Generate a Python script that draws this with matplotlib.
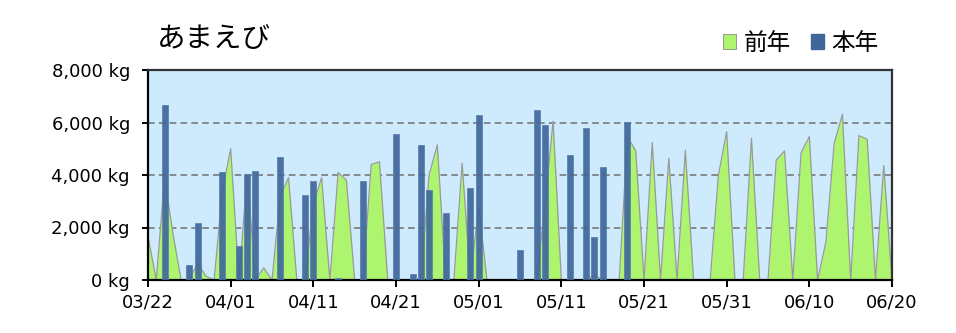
import matplotlib
matplotlib.use("Agg")
import matplotlib.pyplot as plt
from matplotlib.patches import Patch
import numpy as np
from matplotlib.ticker import FuncFormatter, FixedLocator

# day index 0 = 03/22 ... 90 = 06/20
tick_days = [0, 10, 20, 30, 40, 50, 60, 70, 80, 90]
tick_labels = ["03/22", "04/01", "04/11", "04/21", "05/01", "05/11", "05/21", "05/31", "06/10", "06/20"]

# previous year (daily, day 0..90)
prev_year = [1650, 0, 3900, 1800, 0, 0, 650, 150, 0, 3400,
             5000, 0, 4000, 0, 460, 0, 3200, 3900, 0, 0,
             2900, 3900, 0, 4100, 3800, 0, 0, 4400, 4500, 0,
             0, 0, 0, 0, 4000, 5150, 0, 0, 4450, 0,
             2850, 0, 0, 0, 0, 0, 0, 0, 2800, 6050,
             0, 0, 0, 0, 200, 0, 0, 0, 5470, 4920,
             0, 5240, 0, 4640, 0, 4950, 0, 0, 0, 3990,
             5650, 0, 0, 5400, 0, 0, 4570, 4920, 0, 4850,
             5460, 0, 1440, 5200, 6310, 0, 5500, 5360, 0, 4360,
             0]

# this year (bars): day index and value
this_days = [2, 5, 6, 9, 11, 12, 13, 16, 19, 20, 23, 26, 30, 32, 33, 34, 36,
             39, 40, 45, 47, 48, 51, 53, 54, 55, 58]
this_vals = [6680, 575, 2170, 4100, 1290, 4035, 4150, 4700, 3240, 3770, 90, 3770,
             5570, 217, 5130, 3435, 2550, 3510, 6300, 1150, 6475, 5890, 4760,
             5800, 1635, 4320, 6030]

title = "あまえび"
legend_labels = ["前年", "本年"]

cjk = ["Noto Sans CJK JP", "DejaVu Sans"]

fig = plt.figure(figsize=(9.56, 3.33), dpi=100)
ax = fig.add_axes([148/956, 53/333, 744/956, 210/333])
ax.set_facecolor("#cdebfd")

days = np.arange(len(prev_year))
green = "#adf56e"
blue = "#40679a"

ax.fill_between(days, prev_year, 0, color=green, zorder=2, lw=0)
ax.plot(days, prev_year, color="#9a9a9a", lw=0.9, zorder=2.5)
ax.bar(this_days, this_vals, width=0.72, color=blue, alpha=0.92, zorder=3,
       edgecolor="#5a7fae", linewidth=0.6)

ax.set_xlim(0, 90)
ax.set_ylim(0, 8000)
ax.yaxis.set_major_locator(FixedLocator([0, 2000, 4000, 6000, 8000]))
ax.yaxis.set_major_formatter(FuncFormatter(lambda v, p: f"{int(v):,} kg"))
ax.set_xticks(tick_days)
ax.set_xticklabels(tick_labels)
for y in [2000, 4000, 6000]:
    ax.axhline(y, color="#7a7a7a", lw=1.2, ls=(0, (4, 2.5)), zorder=1)

for s in ax.spines.values():
    s.set_linewidth(1.6)
    s.set_color("black")
ax.spines["top"].set_color("#333333")
ax.spines["right"].set_color("#333333")
ax.tick_params(axis="both", direction="out", width=1.4, labelsize=13,
               colors="black")
ax.tick_params(axis="x", length=5, pad=5)
ax.tick_params(axis="y", length=4, pad=9)

fig.text(157/956, 1 - 39/333, title, fontsize=20.5, family=cjk, va="center", ha="left")

handles = [Patch(facecolor=green, edgecolor="#888888", lw=0.6),
           Patch(facecolor=blue, edgecolor=blue)]
leg = fig.legend(handles, legend_labels, loc="center right",
                 bbox_to_anchor=(888/956, 1 - 43/333), ncol=2, frameon=False,
                 prop={"family": cjk, "size": 17}, handlelength=0.57,
                 handleheight=0.6, handletextpad=0.3, columnspacing=0.85,
                 borderaxespad=0)

fig.savefig("out.png", dpi=100)
